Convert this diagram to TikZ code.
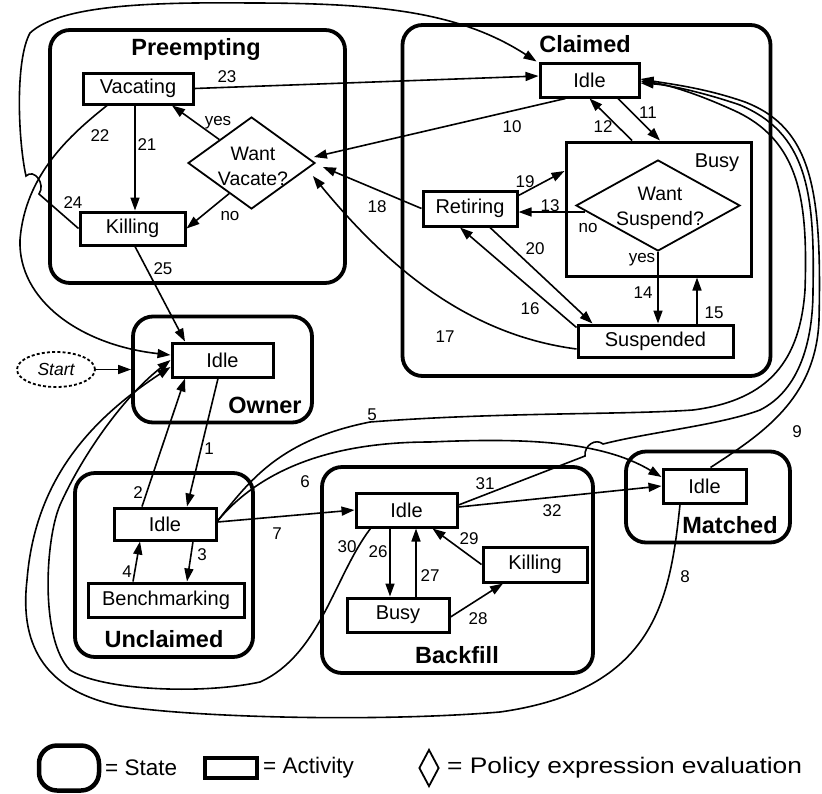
\documentclass[tikz,border=0pt]{standalone}
\usepackage{fontspec}
\usepackage{graphicx}
\setmainfont{Liberation Sans}
\usetikzlibrary{arrows.meta,shapes.geometric}
\begin{document}
\begin{tikzpicture}[x=1pt,y=-1pt,
  statebox/.style={draw,line width=3.8pt,rounded corners=20pt,inner sep=0pt},
  act/.style={draw,line width=3pt,inner sep=0pt,font=\fontsize{20}{22}\selectfont},
  dec/.style={draw,diamond,line width=1.8pt,inner sep=0pt},
  dtext/.style={align=center,inner sep=0pt,font=\fontsize{19.5}{25}\selectfont},
  ttl/.style={anchor=base,inner sep=0pt,font=\bfseries\fontsize{23.5}{26}\selectfont},
  num/.style={inner sep=0pt,font=\fontsize{17}{19}\selectfont},
  conn/.style={line width=1.6pt,-{Triangle[length=13pt,width=9pt]}},
  lgtext/.style={anchor=west,inner sep=0pt,font=\fontsize{22.5}{24}\selectfont},
]
\useasboundingbox (0,0) rectangle (822,793);

% ---- states ----
\node[statebox, minimum width=295pt, minimum height=253pt] (preempt) at (197.5,156.5) {};
\node[ttl] (tpre) at (196,55) {Preempting};
\node[statebox, minimum width=368pt, minimum height=351pt] (claimed) at (586.5,200.5) {};
\node[ttl] (tcla) at (585,52) {Claimed};
\node[statebox, minimum width=179pt, minimum height=106pt] (owner) at (222.5,369.5) {};
\node[ttl] (town) at (265,413) {Owner};
\node[statebox, minimum width=178pt, minimum height=184pt] (unclaimed) at (164,565) {};
\node[ttl] (tunc) at (164,647) {Unclaimed};
\node[statebox, minimum width=271pt, minimum height=206pt] (backfill) at (457.5,570) {};
\node[ttl] (tbac) at (457,663) {Backfill};
\node[statebox, minimum width=164pt, minimum height=91pt] (matched) at (708,497) {};
\node[ttl] (tmat) at (730,533) {Matched};

% ---- activities ----
\node[act, minimum width=110pt, minimum height=31pt] (vac) at (138,88.5) {Vacating};
\node[act, minimum width=105pt, minimum height=33pt] (kill1) at (132.5,228.5) {Killing};
\node[dec, minimum width=127pt, minimum height=92pt] (wantvac) at (251.5,163) {};
\node[dtext] (twv) at (253,166) {Want\\Vacate?};

\node[act, minimum width=99pt, minimum height=34pt] (cidle) at (589.5,80) {Idle};
\node[draw, line width=3pt, inner sep=0pt, minimum width=185pt, minimum height=134pt] (busy) at (658.5,209) {};
\node[anchor=base, inner sep=0pt, font=\fontsize{20}{22}\selectfont] (tbusy) at (717,167) {Busy};
\node[dec, minimum width=164pt, minimum height=91pt] (wantsus) at (658,205.5) {};
\node[dtext] (twsus) at (660,208) {Want\\Suspend?};
\node[act, minimum width=94pt, minimum height=35pt] (retiring) at (470,208.5) {Retiring};
\node[act, minimum width=155pt, minimum height=32pt] (suspended) at (655.5,341) {Suspended};

\node[act, minimum width=101pt, minimum height=34pt] (oidle) at (222.5,360) {Idle};
\node[draw, ellipse, line width=1.8pt, dash pattern=on 3pt off 2.2pt, inner sep=0pt,
      minimum width=78pt, minimum height=35pt, font=\itshape\fontsize{17.5}{19}\selectfont] (start) at (56,369.5) {Start};

\node[act, minimum width=102pt, minimum height=32pt] (uidle) at (165,524) {Idle};
\node[act, minimum width=156pt, minimum height=34pt] (bench) at (166,600) {Benchmarking};

\node[act, minimum width=101pt, minimum height=34pt] (bidle) at (406.5,510) {Idle};
\node[act, minimum width=102pt, minimum height=34pt] (bbusy) at (398,615) {Busy};
\node[act, minimum width=104pt, minimum height=35pt] (bkill) at (535,564.5) {Killing};

\node[act, minimum width=83pt, minimum height=34pt] (midle) at (704.5,486) {Idle};

% ---- connectors ----
\draw[conn] (start.east) -- (owner.west);

\draw[conn] ([xshift=-4.5pt]oidle.south) -- ([xshift=22pt]uidle.north);
\node[num] (l1) at (209,449) {1};
\draw[conn] ([xshift=-23pt]uidle.north) -- ([xshift=-37.5pt]oidle.south);
\node[num] (l2) at (138,493) {2};
\draw[conn] ([xshift=28pt]uidle.south) -- ([xshift=21pt]bench.north);
\node[num] (l3) at (202,555) {3};
\draw[conn] ([xshift=-33pt]bench.north) -- ([xshift=-25pt]uidle.south);
\node[num] (l4) at (127,572) {4};

\draw[conn] ([yshift=3pt]uidle.east) .. controls (250,480) and (280,440) .. (370,422)
  .. controls (500,412) and (620,415) .. (693,410)
  .. controls (770,400) and (800,360) .. (805,290)
  .. controls (808,200) and (800,140) .. (733,110)
  .. controls (700,95) and (670,85) .. ([yshift=-1pt]cidle.east);
\node[num] (l5) at (372,415) {5};

\draw[conn] ([yshift=3pt]uidle.east) .. controls (260,470) and (330,442) .. (430,442)
  .. controls (520,438) and (600,440) .. ([yshift=9pt]midle.west);
\node[num] (l6) at (305,482) {6};

\draw[conn] ([yshift=2pt]uidle.east) -- (bidle.west);
\node[num] (l7) at (277,534) {7};

\draw[conn] ([xshift=-24.5pt]midle.south) .. controls (670,600) and (655,690) .. (500,712)
  .. controls (380,722) and (200,718) .. (120,706)
  .. controls (40,690) and (20,640) .. (27,580)
  .. controls (35,480) and (90,420) .. ([yshift=-7pt]oidle.west);
\node[num] (l8) at (685,577) {8};

\draw[conn] ([xshift=6pt]midle.north) .. controls (760,435) and (816,400) .. (819,320)
  .. controls (822,190) and (812,128) .. (745,102)
  .. controls (705,88) and (670,84) .. ([yshift=1pt]cidle.east);
\node[num] (l9) at (797,432) {9};

\draw[conn] ([xshift=-24pt]cidle.south) -- ([xshift=-2pt,yshift=6pt]wantvac.east);
\node[num] (l10) at (512,127) {10};
\draw[conn] ([xshift=28.5pt]cidle.south) -- ([xshift=1.5pt]busy.north);
\node[num] (l11) at (648,113) {11};
\draw[conn] ([xshift=-26.5pt]busy.north) -- (cidle.south);
\node[num] (l12) at (603,127) {12};
\draw[conn] ([xshift=10pt,yshift=-6.5pt]wantsus.west) -- ([yshift=-3.5pt]retiring.east);
\node[num] (l13) at (550,206) {13};
\node[num] (lno2) at (588,228) {no};
\draw[conn] (wantsus.south) -- (wantsus.south |- suspended.north);
\node[num] (l14) at (643,293) {14};
\node[num] (lyes2) at (642,260) {yes};
\draw[conn] ([xshift=41.5pt]suspended.north) -- ([xshift=38.5pt]busy.south);
\node[num] (l15) at (714,313) {15};
\draw[conn] ([yshift=-4pt]suspended.north west) -- ([xshift=-10pt]retiring.south);
\node[num] (l16) at (530,309) {16};
\draw[conn] ([yshift=-8pt]suspended.west) .. controls (470,335) and (390,270) .. ([xshift=-3pt,yshift=-13pt]wantvac.east);
\node[num] (l17) at (445,337) {17};
\draw[conn] (retiring.west) -- ([xshift=7pt,yshift=-4pt]wantvac.east);
\node[num] (l18) at (377,207) {18};
\draw[conn] ([yshift=13pt]retiring.east) -- ([yshift=38pt]busy.west);
\node[num] (l19) at (525,182) {19};
\draw[conn] ([xshift=20pt]retiring.south) -- ([xshift=-63pt]suspended.north);
\node[num] (l20) at (535,249) {20};

\draw[conn] ([xshift=-3pt]vac.south) -- ([xshift=2.5pt]kill1.north);
\node[num] (l21) at (147,145) {21};
\draw[conn] ([xshift=-31pt]vac.south) .. controls (70,135) and (25,175) .. (20,240)
  .. controls (18,300) and (80,345) .. ([yshift=5pt]oidle.west);
\node[num] (l22) at (100,136) {22};
\draw[conn] (vac.east) -- ([yshift=4pt]cidle.west);
\node[num] (l23) at (227,77) {23};
\draw[conn] (kill1.west) -- (39,194) .. controls (46,184) and (34,168) .. (26,176)
  .. controls (18,140) and (15,60) .. (30,33)
  .. controls (60,5) and (150,2) .. (250,3)
  .. controls (380,3) and (460,12) .. ([xshift=-2pt]cidle.north west);
\node[num] (l24) at (73,203) {24};
\draw[conn] ([xshift=2.5pt]kill1.south) -- ([xshift=-37.5pt]oidle.north);
\node[num] (l25) at (163,269) {25};
\draw[conn] (wantvac.north west) -- ([xshift=34pt]vac.south);
\node[num] (lyes1) at (218,123) {yes};
\draw[conn] ([xshift=10pt,yshift=-7pt]wantvac.south west) -- (kill1.east);
\node[num] (lno1) at (230,216) {no};

\draw[conn] ([xshift=-16.5pt]bidle.south) -- ([xshift=-8pt]bbusy.north);
\node[num] (l26) at (378,552) {26};
\draw[conn] ([xshift=18pt]bbusy.north) -- ([xshift=9.5pt]bidle.south);
\node[num] (l27) at (430,576) {27};
\draw[conn] ([yshift=-2pt]bbusy.east) -- ([xshift=-32pt]bkill.south);
\node[num] (l28) at (478,619) {28};
\draw[conn] (bkill.west) -- ([xshift=26pt]bidle.south);
\node[num] (l29) at (469,539) {29};
\draw[conn] ([xshift=16pt]bidle.south west) .. controls (335,575) and (320,655) .. (260,682)
  .. controls (200,695) and (100,690) .. (70,670)
  .. controls (40,640) and (45,540) .. (60,505)
  .. controls (80,460) and (120,400) .. (oidle.west);
\node[num] (l30) at (347,547) {30};
\draw[conn] ([yshift=5pt]bidle.east) -- (585,456) .. controls (584,445) and (596,438) .. (603,444)
  .. controls (650,432) and (720,425) .. (760,410)
  .. controls (800,390) and (813,340) .. (813,290)
  .. controls (815,190) and (806,133) .. (740,105)
  .. controls (705,93) and (670,85) .. ([yshift=-3pt]cidle.east);
\node[num] (l31) at (485,484) {31};
\draw[conn] ([yshift=3pt]bidle.east) -- (midle.west);
\node[num] (l32) at (552,511) {32};

% ---- legend ----
\node[draw, line width=4.5pt, rounded corners=18pt, inner sep=0pt, minimum width=60pt, minimum height=45pt] (lgstate) at (69,768) {};
\node[lgtext] (lgstatet) at (105,768) {= State};
\node[draw, line width=4pt, inner sep=0pt, minimum width=52pt, minimum height=20pt] (lgact) at (231,768) {};
\node[lgtext] (lgactt) at (263,768) {= Activity};
\node[draw, diamond, line width=1.8pt, inner sep=0pt, minimum width=20pt, minimum height=37pt] (lgdec) at (429,768) {};
\node[lgtext] (lgdect) at (447,768) {\scalebox{1.17}[1]{= Policy expression evaluation}};
\end{tikzpicture}
\end{document}
